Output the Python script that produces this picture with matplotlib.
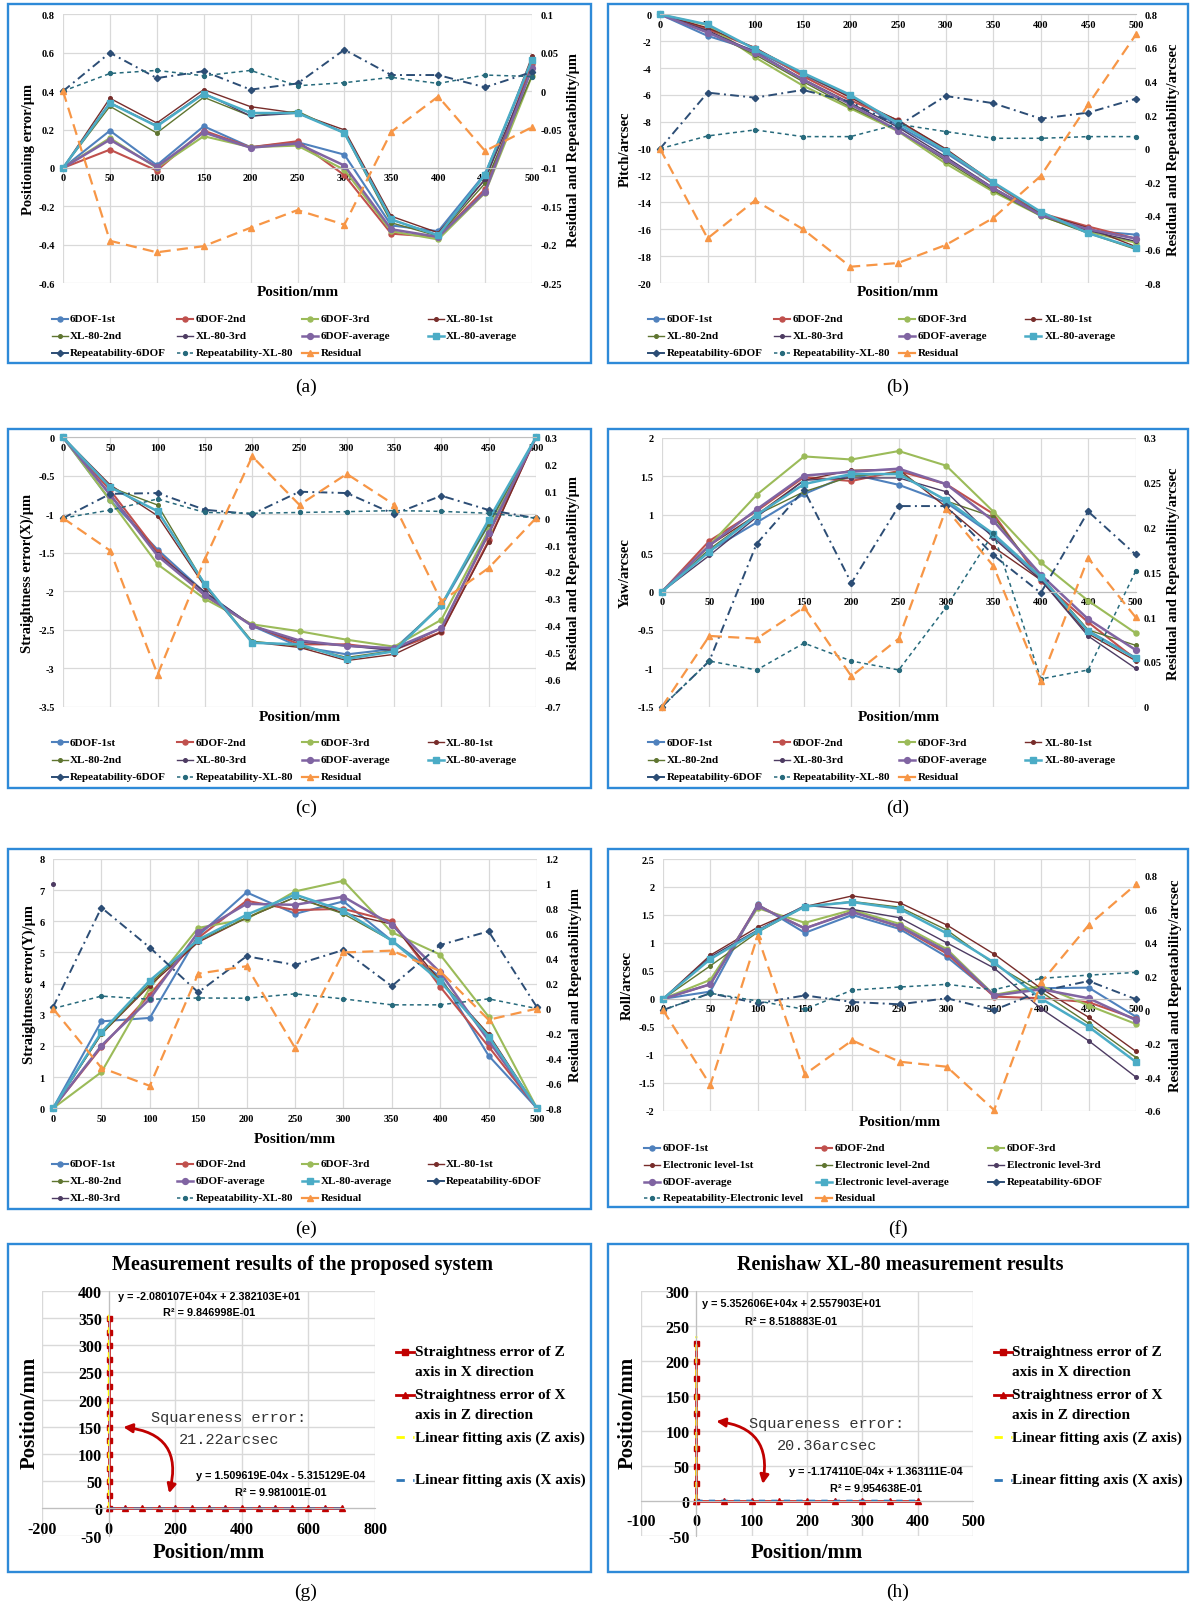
import numpy as np
import matplotlib
matplotlib.use("Agg")
import matplotlib.pyplot as plt
from matplotlib.lines import Line2D
from matplotlib.patches import Rectangle, FancyArrowPatch

# ---------------------------------------------------------------- data
POSITIONS = [0, 50, 100, 150, 200, 250, 300, 350, 400, 450, 500]

# (a) positioning error (um) / right axis (um)
A_6DOF_1 = [0, 0.194, 0.014, 0.217, 0.108, 0.134, 0.069, -0.300, -0.330, -0.030, 0.550]
A_6DOF_2 = [0, 0.095, -0.014, 0.194, 0.108, 0.139, -0.038, -0.343, -0.360, -0.110, 0.543]
A_6DOF_3 = [0, 0.156, 0.000, 0.165, 0.108, 0.116, -0.010, -0.330, -0.373, -0.130, 0.480]
A_XL_1 = [0, 0.363, 0.234, 0.408, 0.319, 0.285, 0.198, -0.252, -0.338, -0.060, 0.581]
A_XL_2 = [0, 0.321, 0.182, 0.368, 0.270, 0.295, 0.180, -0.286, -0.356, -0.080, 0.480]
A_XL_3 = [0, 0.340, 0.220, 0.390, 0.270, 0.285, 0.185, -0.270, -0.350, -0.060, 0.520]
A_6DOF_AVG = [0, 0.147, 0.005, 0.185, 0.105, 0.127, 0.012, -0.320, -0.360, -0.125, 0.520]
A_XL_AVG = [0, 0.338, 0.217, 0.385, 0.286, 0.286, 0.182, -0.269, -0.352, -0.035, 0.564]
A_REP_6DOF = [0, 0.050, 0.017, 0.026, 0.002, 0.010, 0.054, 0.021, 0.021, 0.005, 0.025]
A_REP_XL = [0, 0.023, 0.027, 0.020, 0.027, 0.007, 0.011, 0.018, 0.010, 0.021, 0.019]
A_RESID = [0, -0.195, -0.210, -0.202, -0.178, -0.155, -0.174, -0.053, -0.007, -0.078, -0.047]

# (b) pitch (arcsec)
B_6DOF_1 = [0, -1.6, -2.7, -4.5, -6.1, -8.3, -10.3, -12.6, -14.9, -16.1, -16.4]
B_6DOF_2 = [0, -1.1, -2.5, -4.6, -6.4, -7.9, -10.1, -12.6, -14.8, -15.8, -16.7]
B_6DOF_3 = [0, -0.8, -3.2, -5.3, -7.0, -8.7, -11.1, -13.2, -15.0, -16.2, -17.0]
B_XL_1 = [0, -1.0, -2.5, -4.4, -6.2, -7.9, -10.0, -12.5, -14.8, -15.9, -17.3]
B_XL_2 = [0, -1.3, -3.0, -5.0, -6.9, -8.6, -10.9, -13.1, -15.0, -16.3, -17.5]
B_XL_3 = [0, -1.2, -2.8, -4.8, -6.6, -8.4, -10.6, -12.9, -14.9, -16.1, -16.9]
B_6DOF_AVG = [0, -1.35, -2.85, -4.85, -6.7, -8.65, -10.75, -12.95, -14.95, -16.0, -16.7]
B_XL_AVG = [0, -0.75, -2.6, -4.35, -6.0, -8.1, -10.15, -12.5, -14.7, -16.3, -17.4]
B_REP_6DOF = [0, 0.334, 0.304, 0.350, 0.279, 0.136, 0.314, 0.271, 0.179, 0.215, 0.298]
B_REP_XL = [0, 0.076, 0.112, 0.072, 0.072, 0.146, 0.102, 0.062, 0.062, 0.072, 0.072]
B_RESID = [0, -0.534, -0.308, -0.479, -0.703, -0.681, -0.574, -0.413, -0.162, 0.265, 0.681]

# (c) straightness error (X)
C_6DOF_1 = [0, -0.82, -1.46, -2.02, -2.45, -2.72, -2.82, -2.75, -2.19, -1.13, 0]
C_6DOF_2 = [0, -0.69, -1.49, -2.06, -2.44, -2.69, -2.69, -2.76, -2.53, -1.34, 0]
C_6DOF_3 = [0, -0.82, -1.65, -2.10, -2.43, -2.52, -2.63, -2.72, -2.37, -1.20, 0]
C_XL_1 = [0, -0.62, -1.02, -1.94, -2.66, -2.73, -2.90, -2.82, -2.53, -1.36, 0]
C_XL_2 = [0, -0.65, -0.88, -1.91, -2.65, -2.71, -2.86, -2.77, -2.17, -1.13, 0]
C_XL_3 = [0, -0.74, -1.52, -2.01, -2.45, -2.66, -2.71, -2.77, -2.48, -1.26, 0]
C_6DOF_AVG = [0, -0.75, -1.54, -2.05, -2.45, -2.64, -2.71, -2.74, -2.48, -1.24, 0]
C_XL_AVG = [0, -0.65, -0.96, -1.91, -2.67, -2.69, -2.88, -2.78, -2.18, -1.07, 0]
C_REP_6DOF = [0, 0.090, 0.093, 0.031, 0.015, 0.098, 0.093, 0.015, 0.083, 0.030, 0]
C_REP_XL = [0, 0.030, 0.071, 0.021, 0.018, 0.021, 0.024, 0.028, 0.025, 0.018, 0]
C_RESID = [0, -0.121, -0.581, -0.152, 0.229, 0.049, 0.164, 0.050, -0.309, -0.185, 0]

# (d) yaw (arcsec)
D_6DOF_1 = [0, 0.53, 0.90, 1.27, 1.53, 1.39, 1.16, 0.73, 0.18, -0.51, -0.86]
D_6DOF_2 = [0, 0.66, 1.05, 1.49, 1.44, 1.57, 1.40, 1.01, 0.14, -0.40, -0.88]
D_6DOF_3 = [0, 0.60, 1.26, 1.76, 1.72, 1.83, 1.64, 1.04, 0.38, -0.12, -0.54]
D_XL_1 = [0, 0.60, 1.00, 1.45, 1.58, 1.59, 1.10, 0.58, 0.15, -0.55, -0.90]
D_XL_2 = [0, 0.55, 1.00, 1.30, 1.50, 1.55, 1.18, 0.97, 0.20, -0.50, -0.70]
D_XL_3 = [0, 0.47, 0.97, 1.45, 1.48, 1.48, 1.30, 0.70, 0.15, -0.58, -1.00]
D_6DOF_AVG = [0, 0.60, 1.07, 1.51, 1.56, 1.60, 1.40, 0.92, 0.22, -0.36, -0.76]
D_XL_AVG = [0, 0.52, 1.00, 1.40, 1.53, 1.53, 1.19, 0.75, 0.19, -0.52, -0.87]
D_REP_6DOF = [0, 0.051, 0.182, 0.242, 0.138, 0.224, 0.224, 0.169, 0.127, 0.218, 0.170]
D_REP_XL = [0, 0.051, 0.041, 0.071, 0.051, 0.041, 0.111, 0.194, 0.031, 0.041, 0.151]
D_RESID = [0, 0.079, 0.076, 0.111, 0.034, 0.076, 0.221, 0.157, 0.029, 0.166, 0.100]

# (e) straightness error (Y)
E_6DOF_1 = [0, 2.79, 2.90, 5.54, 6.93, 6.24, 6.64, 5.38, 4.22, 1.69, 0]
E_6DOF_2 = [0, 1.96, 3.65, 5.47, 6.66, 6.36, 6.40, 6.00, 3.90, 1.98, 0]
E_6DOF_3 = [0, 1.16, 3.86, 5.79, 6.07, 6.96, 7.30, 5.65, 4.93, 2.94, 0]
E_XL_1 = [0, 2.38, 3.94, 5.33, 6.11, 6.77, 6.27, 5.91, 4.10, 2.38, 0]
E_XL_2 = [0, 2.38, 4.01, 5.38, 6.11, 6.77, 6.24, 5.38, 4.12, 2.33, 0]
E_XL_3_POS = [0]
E_XL_3 = [7.2]
E_6DOF_AVG = [0, 2.01, 3.51, 5.65, 6.56, 6.53, 6.79, 5.89, 4.36, 2.17, 0]
E_XL_AVG = [0, 2.44, 4.10, 5.41, 6.21, 6.86, 6.34, 5.38, 4.07, 2.30, 0]
E_REP_6DOF = [0.01, 0.81, 0.49, 0.13, 0.42, 0.35, 0.47, 0.18, 0.51, 0.62, 0.01]
E_REP_XL = [0, 0.100, 0.075, 0.085, 0.083, 0.118, 0.078, 0.030, 0.030, 0.078, 0]
E_RESID = [0, -0.475, -0.620, 0.280, 0.340, -0.315, 0.450, 0.465, 0.300, -0.090, 0]

# (f) roll (arcsec)
F_6DOF_1 = [0, 0.13, 1.69, 1.18, 1.50, 1.25, 0.75, 0.06, 0.19, 0.20, -0.32]
F_6DOF_2 = [0, 0.26, 1.67, 1.26, 1.56, 1.29, 0.81, 0.04, 0.01, -0.06, -0.36]
F_6DOF_3 = [0, 0.34, 1.62, 1.36, 1.59, 1.34, 0.89, 0.07, 0.23, -0.12, -0.45]
F_EL_1 = [0, 0.78, 1.28, 1.65, 1.84, 1.72, 1.32, 0.80, 0.18, -0.33, -0.94]
F_EL_2 = [0, 0.59, 1.19, 1.65, 1.74, 1.64, 1.23, 0.62, 0.12, -0.44, -1.05]
F_EL_3 = [0, 0.75, 1.23, 1.67, 1.60, 1.45, 1.00, 0.55, -0.18, -0.75, -1.40]
F_6DOF_AVG = [0, 0.26, 1.66, 1.26, 1.55, 1.30, 0.85, 0.06, 0.17, 0.01, -0.38]
F_EL_AVG = [0, 0.71, 1.21, 1.65, 1.73, 1.61, 1.17, 0.65, 0.00, -0.50, -1.13]
F_REP_6DOF = [0, 0.100, 0.040, 0.087, 0.048, 0.034, 0.070, 0.000, 0.113, 0.173, 0.064]
F_REP_EL = [0, 0.100, 0.054, 0.004, 0.119, 0.137, 0.153, 0.121, 0.189, 0.208, 0.224]
F_RESID = [0, -0.447, 0.441, -0.383, -0.181, -0.308, -0.338, -0.596, 0.167, 0.506, 0.749]

# (g) proposed system squareness
G_Z_POS = [0, 25, 50, 75, 100, 125, 150, 175, 200, 225, 250, 275, 300, 325, 350]
G_Z_ERR = [0, 0, 0, 0, 0, 0, 0, 0, 0, 0, 0, 0, 0, 0, 0]
G_X_POS = [0, 50, 100, 150, 200, 250, 300, 350, 400, 450, 500, 550, 600, 650, 700]
G_X_ERR = [0, 0, 0, 0, 0, 0, 0, 0, 0, 0, 0, 0, 0, 0, 0]
G_ZFIT = [-2.080107e4, 2.382103e1]
G_XFIT = [1.509619e-4, -5.315129e-4]

# (h) Renishaw XL-80 squareness
H_Z_POS = [0, 25, 50, 75, 100, 125, 150, 175, 200, 225]
H_Z_ERR = [0, 0, 0, 0, 0, 0, 0, 0, 0, 0]
H_X_POS = [0, 50, 100, 150, 200, 250, 300, 350, 400]
H_X_ERR = [0, 0, 0, 0, 0, 0, 0, 0, 0]
H_ZFIT = [5.352606e4, 2.557903e1]
H_XFIT = [-1.174110e-4, 1.363111e-4]

# ---------------------------------------------------------------- style
W, H = 1191, 1606
plt.rcParams['font.family'] = ['Liberation Serif', 'DejaVu Serif']
plt.rcParams['font.weight'] = 'bold'
SANS = ['Liberation Sans', 'DejaVu Sans']
MONO = ['Liberation Mono', 'DejaVu Sans Mono']

C1, C2, C3 = '#4F81BD', '#C0504D', '#9BBB59'
CX1, CX2, CX3 = '#772C2A', '#5F7530', '#4D3B62'
CAVG6, CAVGX = '#8064A2', '#4BACC6'
CREP6, CREPX, CRES = '#2C4D75', '#276A7C', '#F79646'
GRID = '#D9D9D9'
BOX = '#2E8AD8'
RED = '#C00000'

STY = {
    'run6': dict(lw=1.5, ls='-', marker='o', ms=3.6),
    'runx': dict(lw=1.0, ls='-', marker='o', ms=2.6),
    'avg6': dict(lw=1.8, ls='-', marker='o', ms=4.2),
    'avgx': dict(lw=1.8, ls='-', marker='s', ms=3.8),
    'rep6': dict(lw=1.4, ls=(0, (4.5, 2.2, 1, 2.2)), marker='D', ms=3.2),
    'repx': dict(lw=1.1, ls=(0, (2.6, 2.3)), marker='o', ms=2.8),
    'res': dict(lw=1.6, ls=(0, (5, 2.8)), marker='^', ms=4.2),
}

fig = plt.figure(figsize=(W / 100, H / 100), dpi=100)


def rect(l, t, r, b):
    return [l / W, 1 - b / H, (r - l) / W, (b - t) / H]


def fx(x):
    return x / W


def fy(y):
    return 1 - y / H


def fmt(v):
    s = f"{round(v, 3):g}"
    return '0' if s in ('-0', '0') else s


def box(l, t, r, b):
    fig.add_artist(Rectangle((fx(l), fy(b)), (r - l) / W, (b - t) / H,
                             transform=fig.transFigure, fill=False,
                             ec=BOX, lw=1.7))


def caption(x, y, s):
    fig.text(fx(x), fy(y), s, ha='center', va='center', fontsize=14,
             fontweight='normal')


def style_ticks(ax, size):
    for lbl in ax.get_xticklabels() + ax.get_yticklabels():
        lbl.set_fontweight('bold')
        lbl.set_fontsize(size)


def line_panel(px, left, right, ylim, yticks, ylim2, yticks2,
               ylab, ylab2, ylab_x, ylab2_x, xlab_y):
    l, t, r, b = px
    ax = fig.add_axes(rect(*px))
    ax.set_xlim(0, 500)
    ax.set_ylim(*ylim)
    ax.set_xticks(POSITIONS)
    ax.set_xticklabels([str(p) for p in POSITIONS])
    ax.set_yticks(yticks)
    ax.set_yticklabels([fmt(v) for v in yticks])
    for sp in ('left', 'right', 'top'):
        ax.spines[sp].set_visible(False)
    ax.spines['bottom'].set_position(('data', 0))
    ax.spines['bottom'].set_color('#BFBFBF')
    ax.grid(True, color=GRID, lw=0.9)
    ax.set_axisbelow(True)
    ax.tick_params(length=0)
    ax.tick_params(axis='x', pad=4)
    ax.tick_params(axis='y', pad=6)
    style_ticks(ax, 7.5)
    for xs, ys, color, st in left:
        ax.plot(xs, ys, color=color, clip_on=False, mfc=color, mec=color,
                **STY[st])
    ax2 = ax.twinx()
    ax2.set_ylim(*ylim2)
    ax2.set_yticks(yticks2)
    ax2.set_yticklabels([fmt(v) for v in yticks2])
    for sp in ax2.spines.values():
        sp.set_visible(False)
    ax2.tick_params(length=0, pad=6)
    style_ticks(ax2, 7.5)
    for xs, ys, color, st in right:
        ax2.plot(xs, ys, color=color, clip_on=False, mfc=color, mec=color,
                 **STY[st])
    cy = (t + b) / 2
    fig.text(fx(ylab_x), fy(cy), ylab, rotation=90, ha='center',
             va='center', fontsize=10.5)
    fig.text(fx(ylab2_x), fy(cy), ylab2, rotation=90, ha='center',
             va='center', fontsize=10.5)
    fig.text(fx((l + r) / 2), fy(xlab_y), 'Position/mm', ha='center',
             va='center', fontsize=11)
    return ax


def legend(entries, ncol, key_x, text_x, rows, klen=16):
    for i, (label, color, st) in enumerate(entries):
        r, c = divmod(i, ncol)
        y = rows[r]
        x0 = key_x[c]
        s = STY[st]
        if st == 'repx':
            ls = (0, (2.2, 2.0))
        else:
            ls = '-'
        ln = Line2D([fx(x0), fx(x0 + klen / 2), fx(x0 + klen)], [fy(y)] * 3,
                    transform=fig.transFigure, color=color, lw=s['lw'],
                    ls=ls, marker=s['marker'], ms=s['ms'], markevery=[1],
                    mfc=color, mec=color)
        fig.add_artist(ln)
        fig.text(fx(text_x[c]), fy(y), label, ha='left', va='center',
                 fontsize=8)


LEFT_KEYS = [52, 177, 302, 428]
LEFT_TEXT = [70, 196, 321, 446]
RIGHT_KEYS = [648, 774, 899, 1025]
RIGHT_TEXT = [667, 793, 918, 1045]


def series_set(s1, s2, s3, x1, x2, x3, a6, ax_):
    return [
        (POSITIONS, s1, C1, 'run6'), (POSITIONS, s2, C2, 'run6'),
        (POSITIONS, s3, C3, 'run6'), (POSITIONS, x1, CX1, 'runx'),
        (POSITIONS, x2, CX2, 'runx'), (POSITIONS, x3, CX3, 'runx'),
        (POSITIONS, a6, CAVG6, 'avg6'), (POSITIONS, ax_, CAVGX, 'avgx'),
    ]


def right_set(r6, rx, res):
    return [(POSITIONS, r6, CREP6, 'rep6'), (POSITIONS, rx, CREPX, 'repx'),
            (POSITIONS, res, CRES, 'res')]


STD_LEGEND = [
    ('6DOF-1st', C1, 'run6'), ('6DOF-2nd', C2, 'run6'),
    ('6DOF-3rd', C3, 'run6'), ('XL-80-1st', CX1, 'runx'),
    ('XL-80-2nd', CX2, 'runx'), ('XL-80-3rd', CX3, 'runx'),
    ('6DOF-average', CAVG6, 'avg6'), ('XL-80-average', CAVGX, 'avgx'),
    ('Repeatability-6DOF', CREP6, 'rep6'),
    ('Repeatability-XL-80', CREPX, 'repx'), ('Residual', CRES, 'res'),
]

# ---------------------------------------------------------------- (a)
box(8, 5, 591, 364)
line_panel((63, 15.4, 532, 284),
           series_set(A_6DOF_1, A_6DOF_2, A_6DOF_3, A_XL_1, A_XL_2, A_XL_3,
                      A_6DOF_AVG, A_XL_AVG),
           right_set(A_REP_6DOF, A_REP_XL, A_RESID),
           (-0.6, 0.8), np.round(np.arange(-0.6, 0.81, 0.2), 2),
           (-0.25, 0.1), np.round(np.arange(-0.25, 0.101, 0.05), 2),
           'Positioning error/μm', 'Residual and Repeatability/μm',
           29, 574, 293)
legend(STD_LEGEND, 4, LEFT_KEYS, LEFT_TEXT, [320, 337, 353.5])
caption(306, 387, '(a)')

# ---------------------------------------------------------------- (b)
box(608, 5, 1188, 364)
line_panel((660, 15.4, 1136, 284),
           series_set(B_6DOF_1, B_6DOF_2, B_6DOF_3, B_XL_1, B_XL_2, B_XL_3,
                      B_6DOF_AVG, B_XL_AVG),
           right_set(B_REP_6DOF, B_REP_XL, B_RESID),
           (-20, 0), np.arange(-20, 1, 2),
           (-0.8, 0.8), np.round(np.arange(-0.8, 0.81, 0.2), 2),
           'Pitch/arcsec', 'Residual and Repeatability/arcsec',
           625, 1173, 293)
legend(STD_LEGEND, 4, RIGHT_KEYS, RIGHT_TEXT, [320, 337, 353.5])
caption(898, 387, '(b)')

# ---------------------------------------------------------------- (c)
box(8, 430, 591, 789)
line_panel((63, 438.3, 536, 707.7),
           series_set(C_6DOF_1, C_6DOF_2, C_6DOF_3, C_XL_1, C_XL_2, C_XL_3,
                      C_6DOF_AVG, C_XL_AVG),
           right_set(C_REP_6DOF, C_REP_XL, C_RESID),
           (-3.5, 0), np.round(np.arange(-3.5, 0.01, 0.5), 2),
           (-0.7, 0.3), np.round(np.arange(-0.7, 0.31, 0.1), 2),
           'Straightness error(X)/μm', 'Residual and Repeatability/μm',
           27, 574, 717.7)
legend(STD_LEGEND, 4, LEFT_KEYS, LEFT_TEXT, [743, 760.5, 777.5])
caption(306, 808, '(c)')

# ---------------------------------------------------------------- (d)
box(608, 430, 1188, 789)
line_panel((662, 439, 1135.5, 707.7),
           series_set(D_6DOF_1, D_6DOF_2, D_6DOF_3, D_XL_1, D_XL_2, D_XL_3,
                      D_6DOF_AVG, D_XL_AVG),
           right_set(D_REP_6DOF, D_REP_XL, D_RESID),
           (-1.5, 2), np.round(np.arange(-1.5, 2.01, 0.5), 2),
           (0, 0.3), np.round(np.arange(0, 0.301, 0.05), 2),
           'Yaw/arcsec', 'Residual and Repeatability/arcsec',
           625.5, 1173, 717.7)
legend(STD_LEGEND, 4, RIGHT_KEYS, RIGHT_TEXT, [743, 760.5, 777.5])
caption(898, 808, '(d)')

# ---------------------------------------------------------------- (e)
box(8, 850, 591, 1210)
E_LEFT = [
    (POSITIONS, E_6DOF_1, C1, 'run6'), (POSITIONS, E_6DOF_2, C2, 'run6'),
    (POSITIONS, E_6DOF_3, C3, 'run6'), (POSITIONS, E_XL_1, CX1, 'runx'),
    (POSITIONS, E_XL_2, CX2, 'runx'), (E_XL_3_POS, E_XL_3, CX3, 'runx'),
    (POSITIONS, E_6DOF_AVG, CAVG6, 'avg6'), (POSITIONS, E_XL_AVG, CAVGX, 'avgx'),
]
line_panel((53, 860, 537, 1109.3), E_LEFT,
           right_set(E_REP_6DOF, E_REP_XL, E_RESID),
           (0, 8), np.arange(0, 8.1, 1),
           (-0.8, 1.2), np.round(np.arange(-0.8, 1.21, 0.2), 2),
           'Straightness error(Y)/μm', 'Residual and Repeatability/μm',
           29, 576, 1140)
E_LEGEND = [
    ('6DOF-1st', C1, 'run6'), ('6DOF-2nd', C2, 'run6'),
    ('6DOF-3rd', C3, 'run6'), ('XL-80-1st', CX1, 'runx'),
    ('XL-80-2nd', CX2, 'runx'), ('6DOF-average', CAVG6, 'avg6'),
    ('XL-80-average', CAVGX, 'avgx'), ('Repeatability-6DOF', CREP6, 'rep6'),
    ('XL-80-3rd', CX3, 'runx'), ('Repeatability-XL-80', CREPX, 'repx'),
    ('Residual', CRES, 'res'),
]
legend(E_LEGEND, 4, LEFT_KEYS, LEFT_TEXT, [1164.5, 1182, 1199])
caption(306, 1229, '(e)')

# ---------------------------------------------------------------- (f)
box(608, 850, 1188, 1208)
line_panel((663, 860, 1136, 1111.7),
           series_set(F_6DOF_1, F_6DOF_2, F_6DOF_3, F_EL_1, F_EL_2, F_EL_3,
                      F_6DOF_AVG, F_EL_AVG),
           right_set(F_REP_6DOF, F_REP_EL, F_RESID),
           (-2, 2.5), np.round(np.arange(-2, 2.51, 0.5), 2),
           (-0.6, 0.9), np.round(np.arange(-0.6, 0.81, 0.2), 2),
           'Roll/arcsec', 'Residual and Repeatability/arcsec',
           627, 1175, 1122)
F_LEGEND = [
    ('6DOF-1st', C1, 'run6'), ('6DOF-2nd', C2, 'run6'),
    ('6DOF-3rd', C3, 'run6'), ('Electronic level-1st', CX1, 'runx'),
    ('Electronic level-2nd', CX2, 'runx'), ('Electronic level-3rd', CX3, 'runx'),
    ('6DOF-average', CAVG6, 'avg6'), ('Electronic level-average', CAVGX, 'avgx'),
    ('Repeatability-6DOF', CREP6, 'rep6'),
    ('Repeatability-Electronic level', CREPX, 'repx'), ('Residual', CRES, 'res'),
]
legend(F_LEGEND, 3, [644, 816, 988], [663, 835, 1007],
       [1148.5, 1165.5, 1182.5, 1199])
caption(898, 1229, '(f)')


# ---------------------------------------------------------------- (g), (h)
def square_panel(px, xlim, xticks, ylim, yticks, z_pos, z_err, x_pos, x_err,
                 zfit, xfit, title, title_x, eq_top, eq_bot, sq_pos, sq_txt,
                 arrow_a, arrow_b, rad, ylab_x, leg_key, leg_text):
    l, t, r, b = px
    ax = fig.add_axes(rect(*px))
    ax.set_xlim(*xlim)
    ax.set_ylim(*ylim)
    ax.set_xticks(xticks)
    ax.set_xticklabels([fmt(v) for v in xticks])
    ax.set_yticks(yticks)
    ax.set_yticklabels([fmt(v) for v in yticks])
    for sp in ('right', 'top'):
        ax.spines[sp].set_visible(False)
    ax.spines['bottom'].set_position(('data', 0))
    ax.spines['left'].set_position(('data', 0))
    ax.spines['bottom'].set_color('#BFBFBF')
    ax.spines['left'].set_color('#BFBFBF')
    ax.grid(True, color=GRID, lw=1.0)
    ax.set_axisbelow(True)
    ax.tick_params(length=0)
    ax.tick_params(axis='x', pad=9)
    ax.tick_params(axis='y', pad=5)
    style_ticks(ax, 11.5)
    ax.plot(z_err, z_pos, color=RED, lw=1.8, marker='s', ms=3.6,
            clip_on=False)
    ax.plot(x_pos, x_err, color=RED, lw=1.8, marker='^', ms=4.0,
            clip_on=False)
    zy = np.array([0, z_pos[-1] + 10])
    ax.plot((zy - zfit[1]) / zfit[0], zy, color='#FFFF00', lw=1.5,
            ls=(0, (3, 3)), clip_on=False)
    xx = np.array([0, x_pos[-1]])
    ax.plot(xx, xfit[0] * xx + xfit[1], color='#2E75B6', lw=1.5,
            ls=(0, (3, 3)), clip_on=False)
    arr = FancyArrowPatch(arrow_a, arrow_b, connectionstyle=f'arc3,rad={rad}',
                          arrowstyle='<|-|>', mutation_scale=13, color=RED,
                          lw=2.0)
    ax.add_patch(arr)
    # texts
    fig.text(fx(title_x), fy(1265), title, ha='center', va='center',
             fontsize=14.5)
    (ex, ey1, ey2), (e1, e2) = eq_top
    fig.text(fx(ex), fy(ey1), e1, ha='center', va='center', fontsize=7.8,
             family=SANS)
    fig.text(fx(ex), fy(ey2), e2, ha='center', va='center', fontsize=7.8,
             family=SANS)
    (bx, by1, by2), (b1, b2) = eq_bot
    fig.text(fx(bx), fy(by1), b1, ha='center', va='center', fontsize=7.8,
             family=SANS)
    fig.text(fx(bx), fy(by2), b2, ha='center', va='center', fontsize=7.8,
             family=SANS)
    sx, sy1, sy2 = sq_pos
    fig.text(fx(sx), fy(sy1), 'Squareness error:', ha='center', va='center',
             fontsize=11, family=MONO, fontweight='normal', color='#333333')
    fig.text(fx(sx), fy(sy2), sq_txt, ha='center', va='center',
             fontsize=11, family=MONO, fontweight='normal', color='#333333')
    fig.text(fx(ylab_x), fy(1413), 'Position/mm', rotation=90, ha='center',
             va='center', fontsize=15)
    fig.text(fx((l + r) / 2), fy(1553), 'Position/mm', ha='center',
             va='center', fontsize=15)
    # legend
    keys = [('Straightness error of Z', 'axis in X direction', 's', RED, '-'),
            ('Straightness error of X', 'axis in Z direction', '^', RED, '-'),
            ('Linear fitting axis (Z axis)', None, None, '#FFFF00', (0, (3, 3))),
            ('Linear fitting axis (X axis)', None, None, '#2E75B6', (0, (3, 3)))]
    ys = [(1353, 1373), (1395.5, 1415.5), (1438, None), (1480.5, None)]
    for (t1, t2, mk, col, ls), (y1, y2) in zip(keys, ys):
        ln = Line2D([fx(leg_key), fx(leg_key + 9), fx(leg_key + 18)],
                    [fy(y1)] * 3, transform=fig.transFigure, color=col,
                    lw=2.0, ls=ls, marker=mk if mk else 'None', ms=4,
                    markevery=[1], mfc=col, mec=col)
        fig.add_artist(ln)
        fig.text(fx(leg_text), fy(y1), t1, ha='left', va='center',
                 fontsize=11)
        if t2:
            fig.text(fx(leg_text), fy(y2), t2, ha='left', va='center',
                     fontsize=11)
    return ax


box(8, 1245, 591, 1573)
square_panel((42.3, 1291.7, 375, 1536.7), (-200, 800),
             [-200, 0, 200, 400, 600, 800], (-50, 400),
             [-50, 0, 50, 100, 150, 200, 250, 300, 350, 400],
             G_Z_POS, G_Z_ERR, G_X_POS, G_X_ERR, G_ZFIT, G_XFIT,
             'Measurement results of the proposed system', 302,
             ((209, 1297, 1313),
              ('y = -2.080107E+04x + 2.382103E+01', 'R² = 9.846998E-01')),
             ((281, 1476, 1493),
              ('y = 1.509619E-04x - 5.315129E-04', 'R² = 9.981001E-01')),
             (229, 1418, 1440), '21.22arcsec',
             (35, 150), (179, 23), -0.6, 30, 396, 415)
caption(306, 1592, '(g)')

box(608, 1245, 1188, 1573)
square_panel((641, 1291.7, 973, 1536.7), (-100, 500),
             [-100, 0, 100, 200, 300, 400, 500], (-50, 300),
             [-50, 0, 50, 100, 150, 200, 250, 300],
             H_Z_POS, H_Z_ERR, H_X_POS, H_X_ERR, H_ZFIT, H_XFIT,
             'Renishaw XL-80 measurement results', 900,
             ((791, 1304, 1322),
              ('y = 5.352606E+04x + 2.557903E+01', 'R² = 8.518883E-01')),
             ((876, 1472, 1489),
              ('y = -1.174110E-04x + 1.363111E-04', 'R² = 9.954638E-01')),
             (827, 1424, 1446), '20.36arcsec',
             (31, 114), (119, 20), -0.55, 628, 994, 1012)
caption(898, 1592, '(h)')

fig.savefig('out.png', dpi=100)
